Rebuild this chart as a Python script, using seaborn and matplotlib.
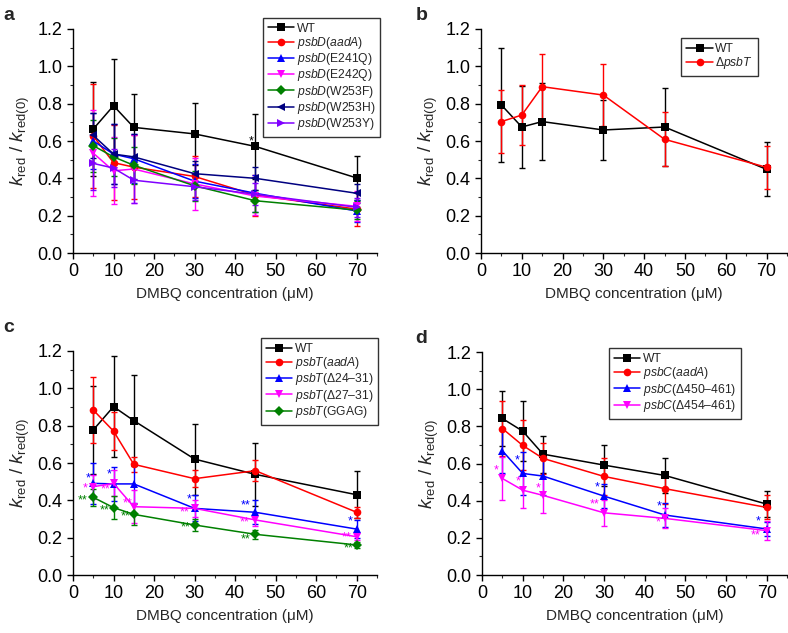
import numpy as np
import pandas as pd
import matplotlib
matplotlib.use('Agg')
import matplotlib.pyplot as plt
from matplotlib.ticker import MultipleLocator
import seaborn as sns

sns.set_style('ticks')
plt.rcParams['font.family'] = ['Liberation Sans', 'DejaVu Sans']
plt.rcParams['mathtext.fontset'] = 'custom'
plt.rcParams['mathtext.rm'] = 'Liberation Sans'
plt.rcParams['mathtext.it'] = 'Liberation Sans:italic'
plt.rcParams['mathtext.bf'] = 'Liberation Sans:bold'

# DMBQ concentrations (uM)
conc = [5, 10, 15, 30, 45, 70]

# panel a: psbD mutants
a_labels = ['WT', r'$\mathit{psbD}$($\mathit{aadA}$)', r'$\mathit{psbD}$(E241Q)', r'$\mathit{psbD}$(E242Q)',
            r'$\mathit{psbD}$(W253F)', r'$\mathit{psbD}$(W253H)', r'$\mathit{psbD}$(W253Y)']
a_vals = [
    [0.664, 0.789, 0.673, 0.638, 0.571, 0.402],
    [0.627, 0.484, 0.460, 0.410, 0.310, 0.235],
    [0.600, 0.530, 0.505, 0.385, 0.320, 0.225],
    [0.535, 0.440, 0.450, 0.370, 0.305, 0.250],
    [0.575, 0.515, 0.470, 0.360, 0.280, 0.230],
    [0.630, 0.530, 0.515, 0.425, 0.400, 0.320],
    [0.480, 0.455, 0.390, 0.355, 0.315, 0.245],
]
a_errs = [
    [0.25, 0.25, 0.18, 0.165, 0.175, 0.12],
    [0.28, 0.20, 0.17, 0.11, 0.11, 0.09],
    [0.15, 0.16, 0.13, 0.09, 0.10, 0.06],
    [0.23, 0.18, 0.18, 0.14, 0.10, 0.08],
    [0.14, 0.10, 0.10, 0.08, 0.06, 0.05],
    [0.12, 0.16, 0.12, 0.07, 0.06, 0.05],
    [0.14, 0.10, 0.12, 0.07, 0.06, 0.05],
]

# panel b: psbT deletion
b_labels = ['WT', r'$\Delta$$\mathit{psbT}$']
b_vals = [
    [0.793, 0.675, 0.704, 0.659, 0.675, 0.448],
    [0.704, 0.739, 0.891, 0.846, 0.609, 0.459],
]
b_errs = [
    [0.305, 0.218, 0.205, 0.163, 0.21, 0.145],
    [0.17, 0.16, 0.175, 0.165, 0.145, 0.115],
]

# panel c: psbT mutants
c_labels = ['WT', r'$\mathit{psbT}$($\mathit{aadA}$)', r'$\mathit{psbT}$($\Delta$24–31)',
            r'$\mathit{psbT}$($\Delta$27–31)', r'$\mathit{psbT}$(GGAG)']
c_vals = [
    [0.777, 0.902, 0.827, 0.621, 0.539, 0.430],
    [0.884, 0.771, 0.593, 0.516, 0.559, 0.336],
    [0.491, 0.488, 0.488, 0.357, 0.336, 0.246],
    [0.473, 0.491, 0.366, 0.357, 0.295, 0.205],
    [0.416, 0.361, 0.325, 0.268, 0.218, 0.161],
]
c_errs = [
    [0.237, 0.27, 0.245, 0.19, 0.17, 0.125],
    [0.175, 0.10, 0.04, 0.045, 0.055, 0.03],
    [0.11, 0.09, 0.10, 0.07, 0.065, 0.05],
    [0.065, 0.07, 0.09, 0.045, 0.035, 0.02],
    [0.045, 0.06, 0.055, 0.03, 0.023, 0.018],
]

# panel d: psbC mutants
d_labels = ['WT', r'$\mathit{psbC}$($\mathit{aadA}$)', r'$\mathit{psbC}$($\Delta$450–461)',
            r'$\mathit{psbC}$($\Delta$454–461)']
d_vals = [
    [0.843, 0.775, 0.651, 0.592, 0.536, 0.382],
    [0.789, 0.698, 0.628, 0.531, 0.465, 0.364],
    [0.669, 0.547, 0.533, 0.425, 0.323, 0.248],
    [0.520, 0.457, 0.429, 0.335, 0.305, 0.239],
]
d_errs = [
    [0.15, 0.16, 0.10, 0.11, 0.095, 0.072],
    [0.15, 0.135, 0.085, 0.10, 0.08, 0.065],
    [0.12, 0.115, 0.10, 0.065, 0.065, 0.04],
    [0.117, 0.095, 0.094, 0.07, 0.054, 0.05],
]

colors = ['#000000', '#ff0000', '#0000ff', '#ff00ff', '#008000', '#000080', '#8000ff']
marks = ['s', 'o', '^', 'v', 'D', '<', '>']

# significance stars: (x, y, text, colour index)
c_stars = [(3.8, 0.52, '*', 2), (8.9, 0.54, '*', 2), (28.7, 0.405, '*', 2), (42.5, 0.375, '**', 2),
           (68.4, 0.286, '*', 2),
           (3.1, 0.464, '*', 3), (8.1, 0.46, '**', 3), (13.6, 0.384, '**', 3), (27.6, 0.336, '**', 3),
           (42.4, 0.28, '**', 3), (67.6, 0.20, '**', 3),
           (2.5, 0.40, '**', 4), (7.9, 0.348, '**', 4), (12.9, 0.313, '**', 4), (27.7, 0.255, '**', 4),
           (42.5, 0.193, '**', 4), (67.9, 0.143, '**', 4)]
d_stars = [(3.6, 0.565, '*', 3), (8.7, 0.615, '*', 2), (9.0, 0.506, '*', 3), (13.9, 0.465, '*', 3),
           (28.4, 0.47, '*', 2), (27.8, 0.382, '**', 3), (43.6, 0.371, '*', 2), (43.4, 0.283, '*', 3),
           (68.0, 0.29, '*', 2), (67.2, 0.215, '**', 3)]
a_stars = [(44.0, 0.595, '*', 0)]


def draw_panel(ax, labels, vals, errs, cols, mks, leg_anchor, stars):
    rows = []
    for lab, v in zip(labels, vals):
        for x, y in zip(conc, v):
            rows.append({'conc': x, 'ratio': y, 'strain': lab})
    df = pd.DataFrame(rows)
    pal = dict(zip(labels, cols))
    mk = dict(zip(labels, mks))
    for lab, v, e in zip(labels, vals, errs):
        ax.errorbar(conc, v, yerr=e, fmt='none', ecolor=pal[lab], elinewidth=1,
                    capsize=2.5, capthick=1)
    sns.lineplot(data=df, x='conc', y='ratio', hue='strain', style='strain', hue_order=labels,
                 style_order=labels, palette=pal, markers=mk, dashes=False, ax=ax,
                 markersize=5.5, markeredgewidth=0, linewidth=1.1, errorbar=None)
    for x, y, t, ci in stars:
        ax.text(x, y, t, color=colors[ci], fontsize=9, ha='center', va='center')
    sns.move_legend(ax, 'upper right', bbox_to_anchor=leg_anchor, borderaxespad=0, title=None,
                    frameon=True, fancybox=False, edgecolor='black', fontsize=8.7,
                    handlelength=2.2, handletextpad=0.2, labelspacing=0.02, borderpad=0.4)
    ax.get_legend().get_frame().set_linewidth(1.0)
    ax.set_xlim(0, 75)
    ax.set_ylim(0, 1.2)
    ax.xaxis.set_major_locator(MultipleLocator(10))
    ax.xaxis.set_minor_locator(MultipleLocator(5))
    ax.yaxis.set_major_locator(MultipleLocator(0.2))
    ax.yaxis.set_minor_locator(MultipleLocator(0.1))
    ax.yaxis.set_major_formatter(matplotlib.ticker.FormatStrFormatter('%.1f'))
    ax.tick_params(which='major', direction='out', length=4, width=1, labelsize=13, colors='black')
    ax.tick_params(which='minor', direction='out', length=2.5, width=0.8)
    for s in ['top', 'right']:
        ax.spines[s].set_visible(False)
    for s in ['left', 'bottom']:
        ax.spines[s].set_linewidth(1)
        ax.spines[s].set_color('black')
    ax.set_xlabel('DMBQ concentration (μM)', fontsize=11, labelpad=5)
    ax.set_ylabel(r'$\mathit{k}_{\mathrm{red}}$ / $\mathit{k}_{\mathrm{red(0)}}$', fontsize=13.5, labelpad=4)


fig = plt.figure(figsize=(7.88, 6.33), dpi=100)
ax_a = fig.add_axes([0.0926, 0.6003, 0.3858, 0.3539])
ax_b = fig.add_axes([0.6104, 0.6003, 0.3883, 0.3539])
ax_c = fig.add_axes([0.0926, 0.0916, 0.3858, 0.3539])
ax_d = fig.add_axes([0.6117, 0.0916, 0.3870, 0.3520])

draw_panel(ax_a, a_labels, a_vals, a_errs, colors, marks, (1.01, 1.05), a_stars)
draw_panel(ax_b, b_labels, b_vals, b_errs, colors[:2], marks[:2], (0.905, 0.96), [])
draw_panel(ax_c, c_labels, c_vals, c_errs, colors[:4] + ['#008000'], marks[:4] + ['D'], (1.003, 1.058), c_stars)
draw_panel(ax_d, d_labels, d_vals, d_errs, colors[:4], marks[:4], (0.849, 1.018), d_stars)

for lab, x, y in [('a', 0.004, 0.976), ('b', 0.527, 0.976), ('c', 0.004, 0.482), ('d', 0.527, 0.466)]:
    fig.text(x, y, lab, fontsize=14, fontweight='bold', ha='left', va='center')

fig.savefig('out.png', dpi=100)
